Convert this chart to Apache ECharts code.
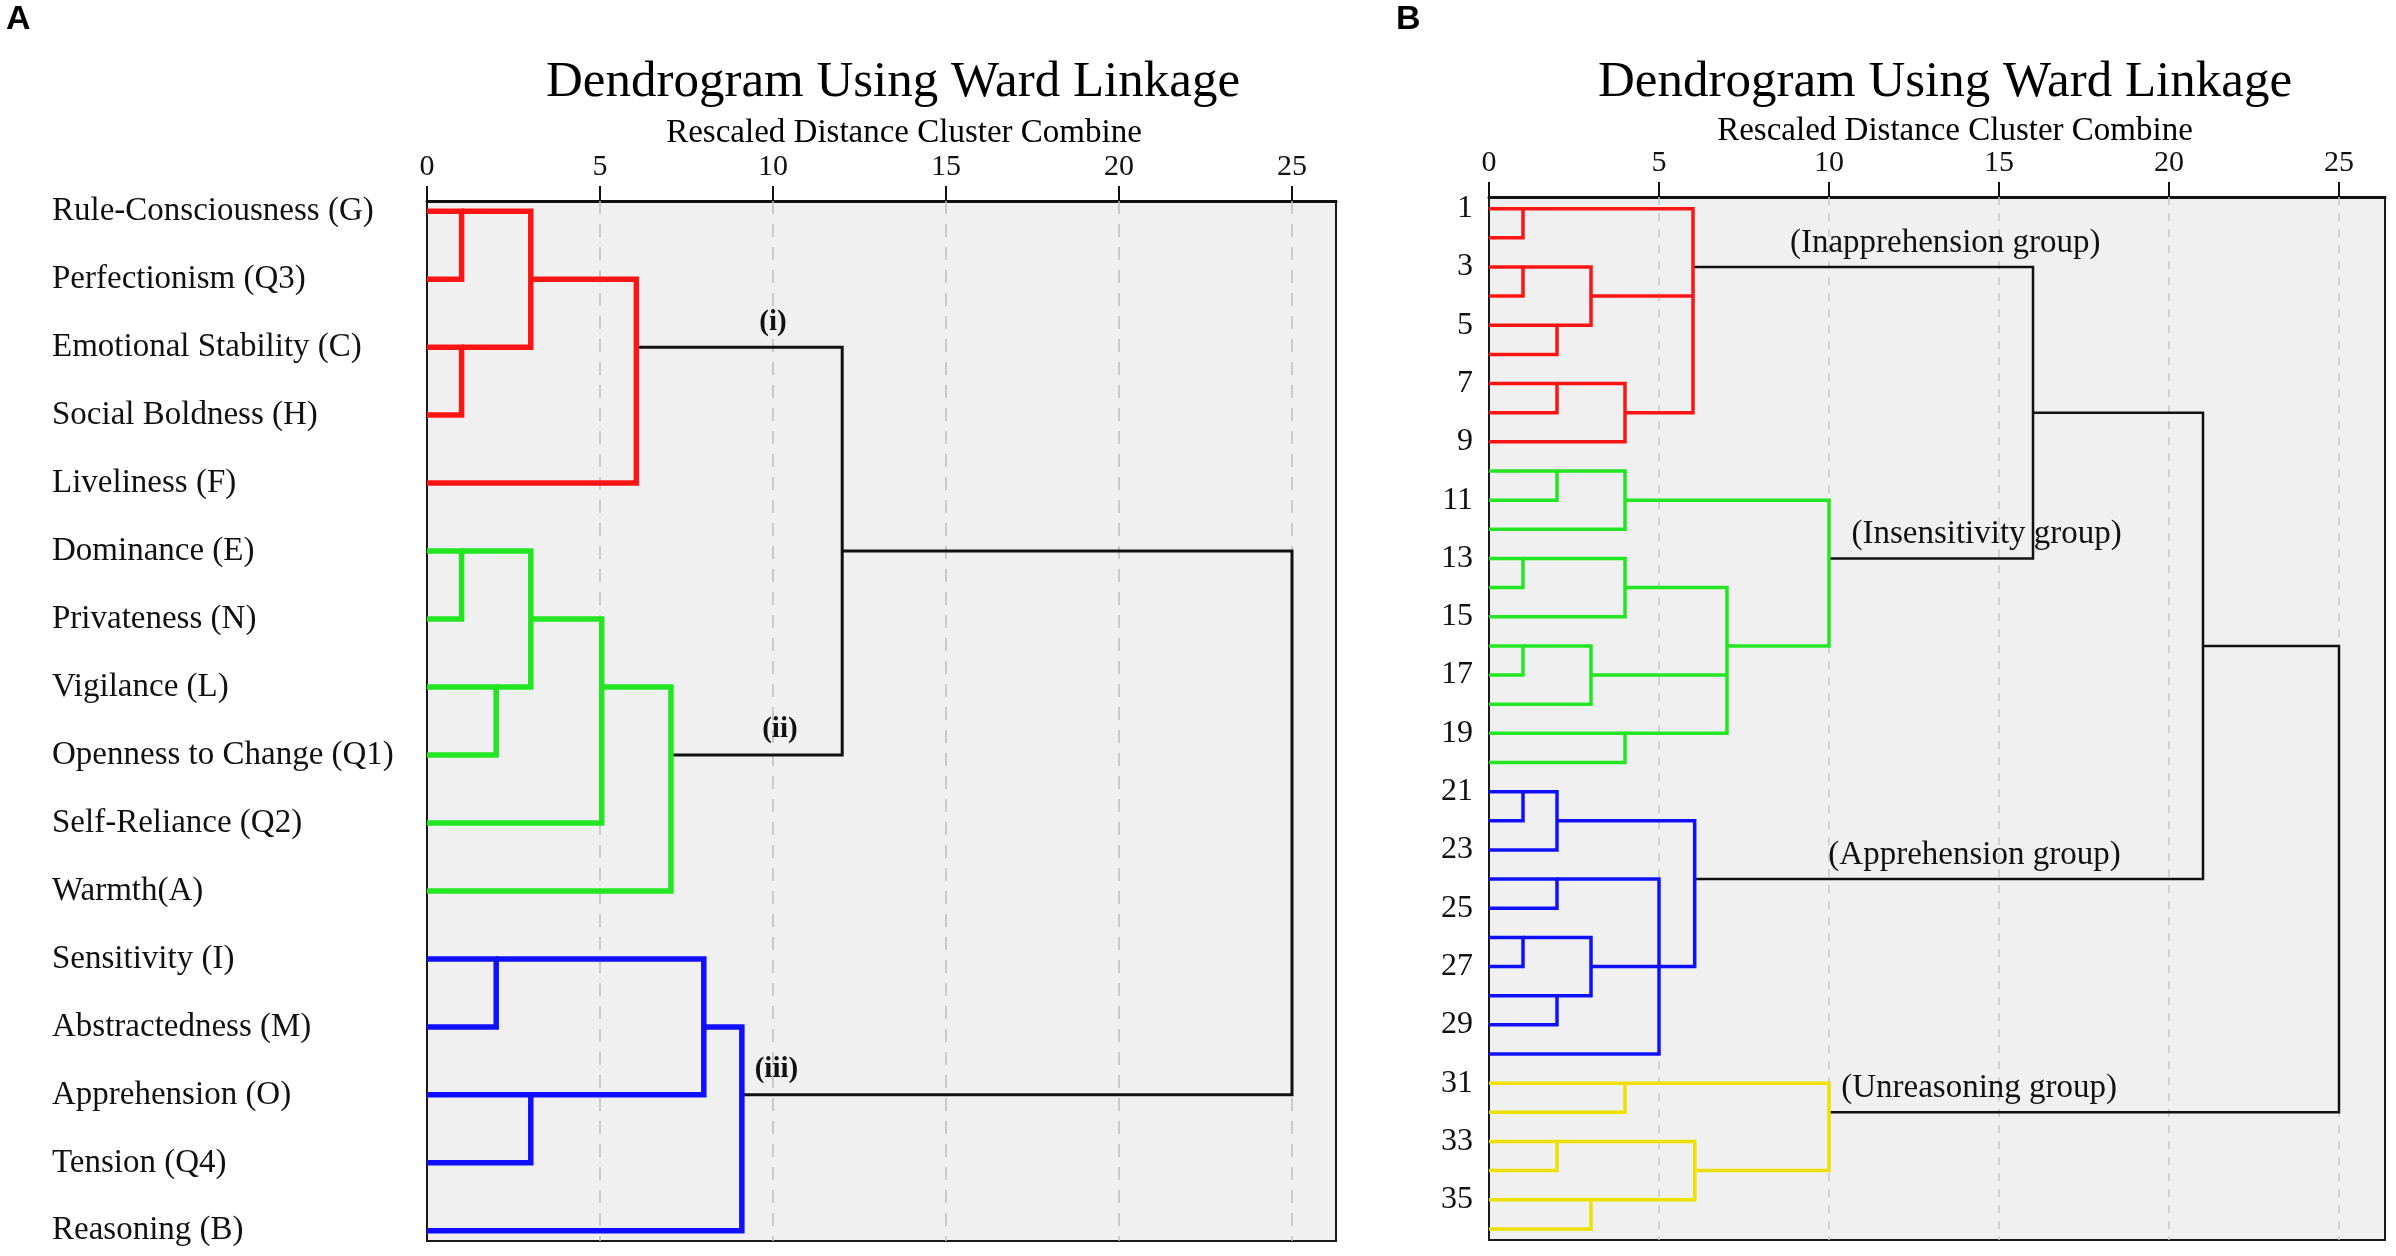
<!DOCTYPE html>
<html><head><meta charset="utf-8">
<script src="https://cdn.jsdelivr.net/npm/echarts@6/dist/echarts.min.js"></script>
<style>html,body{margin:0;padding:0;background:#fff}#c{width:2396px;height:1256px}</style>
</head><body><div id="c"></div>
<script>
// ---------- DATA ----------
const distTicks = [0, 5, 10, 15, 20, 25];
const gridTicks = [5, 10, 15, 20, 25];

// Panel A: 16 personality factors (row index 0..15)
const leavesA = ['Rule-Consciousness (G)', 'Perfectionism (Q3)', 'Emotional Stability (C)', 'Social Boldness (H)',
  'Liveliness (F)', 'Dominance (E)', 'Privateness (N)', 'Vigilance (L)', 'Openness to Change (Q1)',
  'Self-Reliance (Q2)', 'Warmth(A)', 'Sensitivity (I)', 'Abstractedness (M)', 'Apprehension (O)',
  'Tension (Q4)', 'Reasoning (B)'];
// merges: [merge distance, [row, start distance], [row, start distance], ...]
const redA = [[1.0, [0, 0], [1, 0]], [1.0, [2, 0], [3, 0]], [3.0, [0, 1], [2, 1]], [6.05, [1, 3], [4, 0]]];
const greenA = [[1.0, [5, 0], [6, 0]], [2.0, [7, 0], [8, 0]], [3.0, [5, 1], [7, 2]], [5.05, [6, 3], [9, 0]], [7.05, [7, 5.05], [10, 0]]];
const blueA = [[2.0, [11, 0], [12, 0]], [3.0, [13, 0], [14, 0]], [8.0, [11, 2], [13, 3]], [9.1, [12, 8], [15, 0]]];
const linkA = [[12.0, [2, 6.05], [8, 7.05]], [25.0, [5, 12], [13, 9.1]]];
const notesA = [['(i)', 10.0, 2], ['(ii)', 10.2, 8], ['(iii)', 10.1, 13]];

// Panel B: 36 cases (row 1..36), labels on odd rows
const rowLabelsB = [1, 3, 5, 7, 9, 11, 13, 15, 17, 19, 21, 23, 25, 27, 29, 31, 33, 35];
const redB = [[1, [1, 0], [2, 0]], [1, [3, 0], [4, 0]], [2, [5, 0], [6, 0]], [3, [3, 1], [5, 2]],
  [2, [7, 0], [8, 0]], [4, [7, 2], [9, 0]], [6.0, [1, 1], [4, 3], [8, 4]]];
const greenB = [[2, [10, 0], [11, 0]], [4, [10, 2], [12, 0]], [1, [13, 0], [14, 0]], [4, [13, 1], [15, 0]],
  [1, [16, 0], [17, 0]], [3, [16, 1], [18, 0]], [4, [19, 0], [20, 0]], [7, [14, 4], [17, 3], [19, 4]],
  [10, [11, 4], [16, 7]]];
const blueB = [[1, [21, 0], [22, 0]], [2, [21, 1], [23, 0]], [2, [24, 0], [25, 0]], [1, [26, 0], [27, 0]],
  [2, [28, 0], [29, 0]], [3, [26, 1], [28, 2]], [5, [24, 2], [27, 3], [30, 0]], [6.05, [22, 2], [27, 5]]];
const yellowB = [[4, [31, 0], [32, 0]], [2, [33, 0], [34, 0]], [3, [35, 0], [36, 0]], [6.05, [33, 2], [35, 3]],
  [10, [31, 4], [34, 6.05]]];
const linkB = [[16, [3, 6.0], [13, 10]], [21, [8, 16], [24, 6.05]], [25, [16, 21], [32, 10]]];
const notesB = [['(Inapprehension group)', 8.85, 3], ['(Insensitivity group)', 10.66, 13],
  ['(Apprehension group)', 9.98, 24], ['(Unreasoning group)', 10.36, 32]];

// ---------- STYLE / BUILD ----------
const SERIF = "'Liberation Serif', 'DejaVu Serif', serif";
const RED = '#ff1414', GREEN = '#22e622', BLUE = '#1010ff', YELLOW = '#eee000', BLACK = '#111111';

function bracketSeries(merges, g, color, width, z) {
  return {
    type: 'custom', xAxisIndex: g, yAxisIndex: g, z: z, clip: false, silent: true,
    data: merges.map(m => [m[0], m[1][0]]),
    encode: { x: 0, y: 1 },
    renderItem: function (params, api) {
      const m = merges[params.dataIndex];
      const h = m[0];
      const kids = m.slice(1).sort((a, b) => a[0] - b[0]);
      const first = kids[0], last = kids[kids.length - 1];
      const st = { stroke: color, lineWidth: width, fill: null, lineJoin: 'miter' };
      const pts = [api.coord([first[1], first[0]]), api.coord([h, first[0]]),
        api.coord([h, last[0]]), api.coord([last[1], last[0]])];
      const children = [{ type: 'polyline', shape: { points: pts }, style: st }];
      for (let i = 1; i < kids.length - 1; i++) {
        const a = api.coord([kids[i][1], kids[i][0]]), b = api.coord([h, kids[i][0]]);
        children.push({ type: 'line', shape: { x1: a[0], y1: a[1], x2: b[0], y2: b[1] }, style: st });
      }
      return { type: 'group', children: children };
    }
  };
}

function gridLineSeries(g, color, dash, width) {
  return {
    type: 'custom', xAxisIndex: g, yAxisIndex: g, z: 1, silent: true,
    data: gridTicks.map(v => [v]), encode: { x: 0 },
    renderItem: function (params, api) {
      const cs = params.coordSys;
      const x = api.coord([api.value(0), 1])[0];
      return { type: 'line', shape: { x1: x, y1: cs.y, x2: x, y2: cs.y + cs.height },
        style: { stroke: color, lineWidth: width, lineDash: dash } };
    }
  };
}

function noteSeries(notes, g, opts) {
  return {
    type: 'custom', xAxisIndex: g, yAxisIndex: g, z: 20, silent: true, clip: false,
    data: notes.map(n => [n[1], n[2]]), encode: { x: 0, y: 1 },
    renderItem: function (params, api) {
      const p = api.coord([api.value(0), api.value(1)]);
      return { type: 'text', x: p[0], y: p[1] - opts.dy,
        style: { text: notes[params.dataIndex][0], fill: BLACK, fontFamily: SERIF,
          fontSize: opts.size, fontWeight: opts.weight, align: opts.align, verticalAlign: 'middle' } };
    }
  };
}

function xAxisFor(g, max) {
  return {
    type: 'value', gridIndex: g, position: 'top', min: 0, max: max,
    axisLine: { show: true, onZero: false, lineStyle: { color: BLACK, width: 3 } },
    axisTick: { show: true, inside: false, length: 15, customValues: distTicks, lineStyle: { color: BLACK, width: 2 } },
    axisLabel: { customValues: distTicks, margin: 19, fontFamily: SERIF, fontSize: 30, color: BLACK },
    splitLine: { show: false }
  };
}

const option = {
  backgroundColor: '#ffffff',
  animation: false,
  grid: [
    { left: 427, top: 201, width: 909, height: 1040, show: true, backgroundColor: '#f0f0f0', borderColor: '#1a1a1a', borderWidth: 2 },
    { left: 1489, top: 197, width: 896, height: 1043, show: true, backgroundColor: '#f0f0f0', borderColor: '#1a1a1a', borderWidth: 2 }
  ],
  xAxis: [xAxisFor(0, 909 / 34.6), xAxisFor(1, 896 / 34.0)],
  yAxis: [
    { type: 'value', gridIndex: 0, inverse: true, min: -0.15, max: 15.15,
      axisLine: { show: false }, axisTick: { show: false }, splitLine: { show: false },
      axisLabel: { customValues: leavesA.map((_, i) => i), formatter: v => leavesA[Math.round(v)] || '',
        align: 'left', margin: 375, fontFamily: SERIF, fontSize: 33, color: BLACK } },
    { type: 'value', gridIndex: 1, inverse: true, min: 0.6, max: 36.38,
      axisLine: { show: false }, axisTick: { show: false }, splitLine: { show: false },
      axisLabel: { customValues: rowLabelsB, formatter: v => String(Math.round(v)),
        align: 'right', margin: 16, fontFamily: SERIF, fontSize: 32, color: BLACK } }
  ],
  graphic: [
    { type: 'text', x: 6, y: 20, style: { text: 'A', font: "bold 34px 'Liberation Sans', Arial, sans-serif", fill: '#000', verticalAlign: 'middle' } },
    { type: 'text', x: 1396, y: 20, style: { text: 'B', font: "bold 34px 'Liberation Sans', Arial, sans-serif", fill: '#000', verticalAlign: 'middle' } },
    { type: 'text', x: 893, y: 83, style: { text: 'Dendrogram Using Ward Linkage', fontFamily: SERIF, fontSize: 51, fill: '#000', align: 'center', verticalAlign: 'middle' } },
    { type: 'text', x: 904, y: 133, style: { text: 'Rescaled Distance Cluster Combine', fontFamily: SERIF, fontSize: 33, fill: '#000', align: 'center', verticalAlign: 'middle' } },
    { type: 'text', x: 1945, y: 83, style: { text: 'Dendrogram Using Ward Linkage', fontFamily: SERIF, fontSize: 51, fill: '#000', align: 'center', verticalAlign: 'middle' } },
    { type: 'text', x: 1955, y: 131, style: { text: 'Rescaled Distance Cluster Combine', fontFamily: SERIF, fontSize: 33, fill: '#000', align: 'center', verticalAlign: 'middle' } }
  ],
  series: [
    gridLineSeries(0, '#bdbdbd', [13, 10], 1.5),
    gridLineSeries(1, '#c6c6c6', [8, 8], 1.5),
    bracketSeries(linkA, 0, BLACK, 3, 5),
    bracketSeries(redA, 0, RED, 5.5, 6),
    bracketSeries(greenA, 0, GREEN, 5.5, 6),
    bracketSeries(blueA, 0, BLUE, 5.5, 6),
    bracketSeries(linkB, 1, BLACK, 2.5, 5),
    bracketSeries(redB, 1, RED, 3.5, 6),
    bracketSeries(greenB, 1, GREEN, 3.5, 6),
    bracketSeries(blueB, 1, BLUE, 3.5, 6),
    bracketSeries(yellowB, 1, YELLOW, 3.5, 6),
    noteSeries(notesA, 0, { dy: 25, size: 29, weight: 'bold', align: 'center' }),
    noteSeries(notesB, 1, { dy: 24, size: 33, weight: 'normal', align: 'left' })
  ]
};
const chart = echarts.init(document.getElementById('c'), null, { renderer: 'canvas' });
chart.setOption(option);
</script></body></html>
